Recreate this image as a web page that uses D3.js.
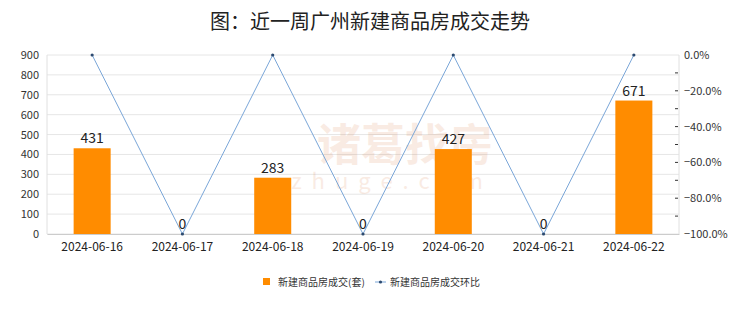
<!DOCTYPE html>
<html>
<head>
<meta charset="utf-8">
<script src="https://cdn.jsdelivr.net/npm/d3@7"></script>
<style>
  body { margin: 0; background: #fff; }
  text { font-family: "Noto Sans CJK SC", "Noto Sans", sans-serif; }
</style>
</head>
<body>
<div id="vis1"></div>
<script>
// data
const dates = ['2024-06-16', '2024-06-17', '2024-06-18', '2024-06-19', '2024-06-20', '2024-06-21', '2024-06-22'];
const deals = [431, 0, 283, 0, 427, 0, 671];
const ratio = [0, -100, 0, -100, 0, -100, 0];
const leftTicks = [0, 100, 200, 300, 400, 500, 600, 700, 800, 900];
const rightTicks = [0, -20, -40, -60, -80, -100];

const W = 740, H = 312;
const margin = {top: 55, left: 47, right: 61, bottom: 78};
const width = W - margin.left - margin.right,
  height = H - margin.top - margin.bottom;

const svg1 = d3.select('#vis1')
  .append('svg')
  .attr('width', W)
  .attr('height', H)
  .attr('viewBox', [0, 0, W, H].join(' '));

const g = svg1.append('g')
  .attr('transform', `translate(${margin.left},${margin.top})`);

let x = d3.scaleBand()
  .domain(dates)
  .range([0, width]);

let y = d3.scaleLinear()
  .domain([0, 900])
  .range([height, 0]);

let y2 = d3.scaleLinear()
  .domain([-100, 0])
  .range([height, 0]);

// gridlines
g.append('g')
  .selectAll('line')
  .data(leftTicks)
  .join('line')
    .attr('x1', 0)
    .attr('x2', width)
    .attr('y1', d => y(d))
    .attr('y2', d => y(d))
    .attr('stroke', '#e6e6e6');

// frame lines left / right
g.append('line').attr('x1', 0).attr('x2', 0).attr('y1', 0).attr('y2', height).attr('stroke', '#e0e0e0');
g.append('line').attr('x1', width).attr('x2', width).attr('y1', 0).attr('y2', height).attr('stroke', '#e0e0e0');

// watermark
const wm = g.append('g').attr('opacity', 0.12);
wm.append('text')
  .attr('x', 358).attr('y', 106)
  .attr('text-anchor', 'middle')
  .attr('font-size', 44)
  .attr('font-weight', 'bold')
  .attr('fill', '#d06020')
  .text('诸葛找房');
wm.append('text')
  .attr('x', 345).attr('y', 134)
  .attr('text-anchor', 'middle')
  .attr('font-size', 22)
  .attr('letter-spacing', 10)
  .attr('fill', '#d06020')
  .text('zhuge.com');

// left axis
const axL = g.append('g')
  .call(d3.axisLeft(y).tickValues(leftTicks).tickSize(0).tickPadding(8));
axL.select('.domain').remove();
axL.selectAll('text').attr('font-size', 11).attr('fill', '#333');

// right axis
const axR = g.append('g')
  .attr('transform', `translate(${width},0)`)
  .call(d3.axisRight(y2).tickValues(rightTicks).tickSize(0).tickPadding(5)
    .tickFormat(d => d3.format('.1f')(d) + '%'));
axR.select('.domain').remove();
axR.selectAll('text').attr('font-size', 11).attr('fill', '#333');

// right minor ticks
g.append('g')
  .selectAll('line')
  .data(d3.range(-90, 0, 10))
  .join('line')
    .attr('x1', width - 4)
    .attr('x2', width - 1)
    .attr('y1', d => y2(d))
    .attr('y2', d => y2(d))
    .attr('stroke', '#333');

// bottom axis
const axB = g.append('g')
  .attr('transform', `translate(0,${height})`)
  .call(d3.axisBottom(x).tickSize(0).tickPadding(8));
axB.select('.domain').attr('stroke', '#ccc');
axB.selectAll('text').attr('font-size', 12).attr('fill', '#222');

// bars
const bw = x.bandwidth() * 0.41;
g.append('g')
  .selectAll('rect')
  .data(dates)
  .join('rect')
    .attr('x', (d, i) => x(d) + (x.bandwidth() - bw) / 2)
    .attr('y', (d, i) => y(deals[i]))
    .attr('width', bw)
    .attr('height', (d, i) => y(0) - y(deals[i]))
    .attr('fill', '#ff8c00');

// line
const line = d3.line()
  .x((d, i) => x(dates[i]) + x.bandwidth() / 2)
  .y(d => y2(d));

g.append('path')
  .datum(ratio)
  .attr('d', line)
  .attr('fill', 'none')
  .attr('stroke', '#7aa6d8')
  .attr('stroke-width', 1);

g.append('g')
  .selectAll('circle')
  .data(ratio)
  .join('circle')
    .attr('cx', (d, i) => x(dates[i]) + x.bandwidth() / 2)
    .attr('cy', d => y2(d))
    .attr('r', 1.6)
    .attr('fill', '#2c4a70');

// value labels
g.append('g')
  .selectAll('text')
  .data(deals)
  .join('text')
    .attr('x', (d, i) => x(dates[i]) + x.bandwidth() / 2)
    .attr('y', d => y(d) - 5)
    .attr('text-anchor', 'middle')
    .attr('font-size', 14)
    .attr('fill', '#222')
    .text(d => d);

// title
svg1.append('text')
  .attr('x', W / 2)
  .attr('y', 29)
  .attr('text-anchor', 'middle')
  .attr('font-size', 20)
  .attr('fill', '#222')
  .text('图：近一周广州新建商品房成交走势');

// legend
const lg = svg1.append('g').attr('transform', 'translate(263,282)');
lg.append('rect').attr('x', 0).attr('y', -4).attr('width', 7).attr('height', 7).attr('fill', '#ff8c00');
lg.append('text').attr('x', 15).attr('y', 4).attr('font-size', 10).attr('fill', '#333').text('新建商品房成交(套)');
lg.append('line').attr('x1', 112).attr('x2', 123).attr('y1', 0).attr('y2', 0).attr('stroke', '#7aa6d8');
lg.append('circle').attr('cx', 117.5).attr('cy', 0).attr('r', 1.6).attr('fill', '#2c4a70');
lg.append('text').attr('x', 127).attr('y', 4).attr('font-size', 10).attr('fill', '#333').text('新建商品房成交环比');
</script>
</body>
</html>
